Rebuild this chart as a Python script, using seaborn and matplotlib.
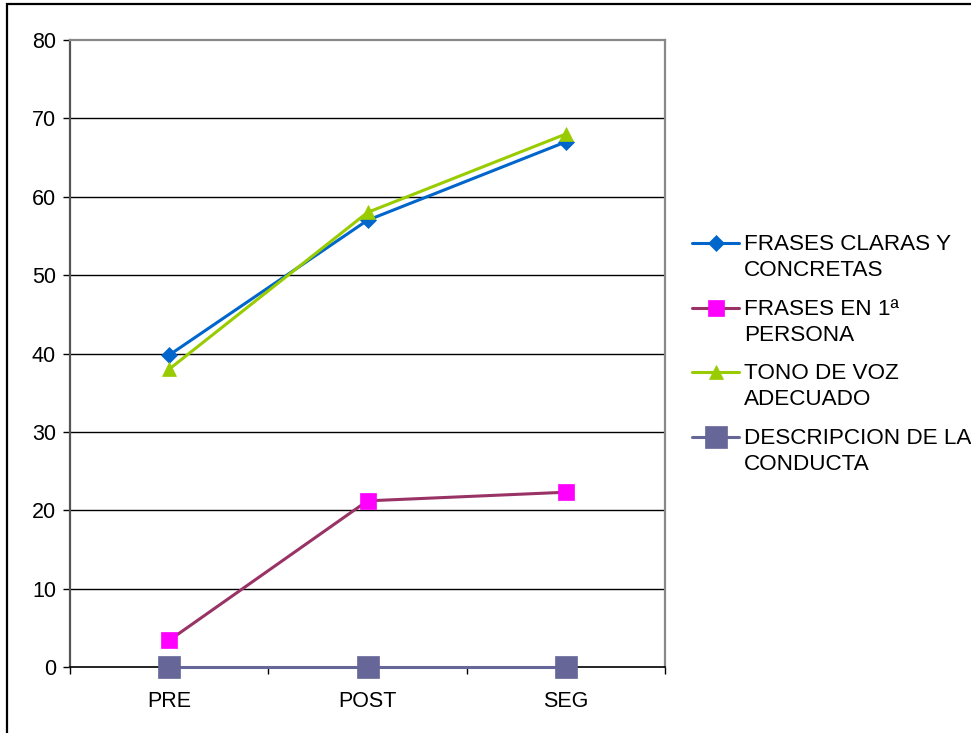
import matplotlib
matplotlib.use("Agg")
import matplotlib.pyplot as plt
from matplotlib.legend_handler import HandlerLine2D
from matplotlib.patches import Rectangle
from matplotlib.ticker import FixedLocator, NullFormatter
import seaborn as sns

# --- data -------------------------------------------------------------
stages = ["PRE", "POST", "SEG"]
series_labels = [
    "FRASES CLARAS Y\nCONCRETAS",
    "FRASES EN 1ª\nPERSONA",
    "TONO DE VOZ\nADECUADO",
    "DESCRIPCION DE LA\nCONDUCTA",
]
frases_claras = [39.8, 57.0, 67.0]
frases_primera = [3.4, 21.2, 22.3]
tono_voz = [38.0, 58.0, 68.0]
descripcion = [0.0, 0.0, 0.0]
y_ticks = [0, 10, 20, 30, 40, 50, 60, 70, 80]

# --- style --------------------------------------------------------------
sns.set_theme(style="white")
plt.rcParams["font.family"] = ["Liberation Sans", "DejaVu Sans"]
FS = 15.5
LEG_FS = 16.2

styles = [
    dict(color="#0066CC", marker="D", markersize=8.2, mfc="#0066CC", mec="#0066CC"),
    dict(color="#993366", marker="s", markersize=11.0, mfc="#FF00FF", mec="#FF00FF"),
    dict(color="#99CC00", marker="^", markersize=10.0, mfc="#99CC00", mec="#99CC00"),
    dict(color="#666699", marker="s", markersize=15.5, mfc="#666699", mec="#666699"),
]
values = [frases_claras, frases_primera, tono_voz, descripcion]

fig = plt.figure(figsize=(9.71, 7.33), dpi=100)
ax = fig.add_axes([70 / 971, 1 - 667 / 733, 595 / 971, 627 / 733])

for vals, label, st in zip(values, series_labels, styles):
    sns.lineplot(
        x=stages, y=vals, ax=ax, sort=False, label=label,
        color=st["color"], linewidth=2.2,
        marker=st["marker"], markersize=st["markersize"],
        markerfacecolor=st["mfc"], markeredgecolor=st["mec"],
        markeredgewidth=0.5, clip_on=False, zorder=3,
    )

# --- axes ---------------------------------------------------------------
ax.set_xlim(-0.5, 2.5)
ax.set_ylim(0, 80)
ax.set_xlabel("")
ax.set_ylabel("")

ax.yaxis.set_major_locator(FixedLocator(y_ticks))
ax.set_yticklabels([str(v) for v in y_ticks], fontsize=FS, color="black")
ax.tick_params(axis="y", which="major", direction="out", length=5,
               width=1, color="black", pad=5, left=True)

# boundary ticks between categories, labels centred on categories
ax.xaxis.set_major_locator(FixedLocator([-0.5, 0.5, 1.5, 2.5]))
ax.xaxis.set_major_formatter(NullFormatter())
ax.xaxis.set_minor_locator(FixedLocator([0, 1, 2]))
ax.set_xticklabels(stages, minor=True, fontsize=FS, color="black")
ax.tick_params(axis="x", which="major", direction="out", length=5,
               width=1, color="black", bottom=True)
ax.tick_params(axis="x", which="minor", length=0, pad=17)

for y in y_ticks[1:-1]:
    ax.axhline(y, color="black", linewidth=1.0, zorder=0.5)

ax.spines["left"].set_color("#555555")
ax.spines["left"].set_linewidth(1.6)
ax.spines["bottom"].set_color("black")
ax.spines["bottom"].set_linewidth(1.2)
for side in ("top", "right"):
    ax.spines[side].set_color("#888888")
    ax.spines[side].set_linewidth(1.6)
ax.grid(False)


# --- legend: markers aligned with the first text line --------------------
class FirstLineHandler(HandlerLine2D):
    def create_artists(self, legend, orig_handle, xdescent, ydescent,
                       width, height, fontsize, trans):
        shift = 0.66 * fontsize
        return super().create_artists(legend, orig_handle, xdescent,
                                      ydescent - 2 * shift, width, height,
                                      fontsize, trans)


handles, labels = ax.get_legend_handles_labels()
leg = ax.legend(
    handles, labels,
    loc="upper left", bbox_to_anchor=(692 / 971, 1 - 234 / 733),
    bbox_transform=fig.transFigure,
    frameon=False, fontsize=LEG_FS, handlelength=2.1, handletextpad=0.22,
    labelspacing=0.78, borderpad=0, borderaxespad=0,
    handler_map={type(handles[0]): FirstLineHandler()},
)
for t in leg.get_texts():
    t.set_color("black")
    t.set_linespacing(1.32)

# --- outer chart border --------------------------------------------------
fig.patches.append(Rectangle(
    (7 / 971, -0.2), 1.5, 1.2 - 3.5 / 733, transform=fig.transFigure,
    fill=False, edgecolor="black", linewidth=1.6, zorder=10,
))

fig.savefig("out.png", dpi=100, facecolor="white")
